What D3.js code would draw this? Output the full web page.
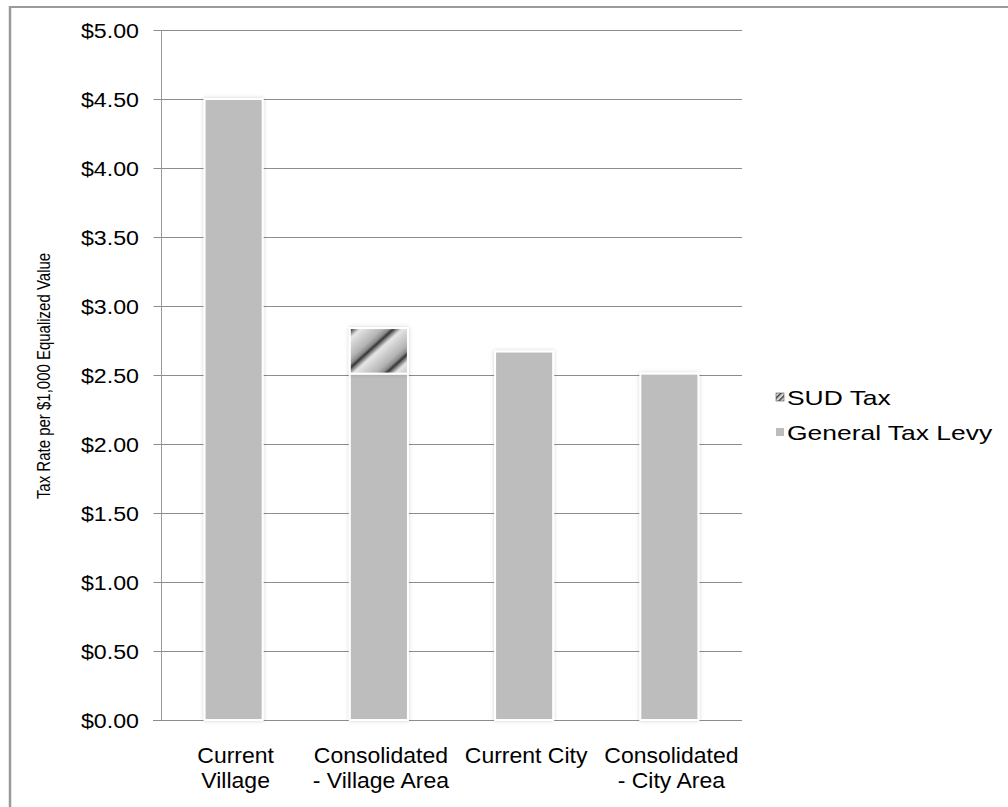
<!DOCTYPE html>
<html>
<head>
<meta charset="utf-8">
<script src="https://cdn.jsdelivr.net/npm/d3@7"></script>
<style>
  html, body { margin: 0; padding: 0; background: #fff; }
  svg { display: block; font-family: "Liberation Sans", Arial, sans-serif; }
</style>
</head>
<body>
<svg id="chart" width="1008" height="807"></svg>
<script>
// Tax rate per $1,000 of equalized value
const categoryLines = [["Current", "Village"], ["Consolidated", "- Village Area"], ["Current City"], ["Consolidated", "- City Area"]];
const categoryKeys = ["Current Village", "Consolidated - Village Area", "Current City", "Consolidated - City Area"];
const generalLevy = [4.50, 2.51, 2.67, 2.51];
const sudTax = [0, 0.33, 0, 0];
const seriesNames = ["SUD Tax", "General Tax Levy"];
const yTicks = [0, 0.5, 1, 1.5, 2, 2.5, 3, 3.5, 4, 4.5, 5];

const svg = d3.select("#chart");
const margin = { left: 161, right: 266, top: 30, bottom: 87 };
const W = 1008, H = 807;

const x = d3.scaleBand().domain(categoryKeys).range([margin.left, W - margin.right]).paddingInner(0.6).paddingOuter(0.3);
const y = d3.scaleLinear().domain([0, 5]).range([H - margin.bottom, margin.top]);

const defs = svg.append("defs");

// soft halo round each bar
const f = defs.append("filter").attr("id", "halo").attr("x", "-20%").attr("y", "-20%").attr("width", "140%").attr("height", "140%");
f.append("feGaussianBlur").attr("in", "SourceAlpha").attr("stdDeviation", 2.2).attr("result", "b");
f.append("feComponentTransfer").attr("in", "b").attr("result", "b2")
  .append("feFuncA").attr("type", "linear").attr("slope", 0.18);
const fm = f.append("feMerge");
fm.append("feMergeNode").attr("in", "b2");
fm.append("feMergeNode").attr("in", "SourceGraphic");

// diagonal shaded stripes for the SUD segment
const grad = defs.append("linearGradient").attr("id", "stripeGrad").attr("x1", "0").attr("x2", "1").attr("y1", "0").attr("y2", "0");
[[0, "#262626"], [0.07, "#6e6e6e"], [0.22, "#e6e6e6"], [0.45, "#d0d0d0"], [0.75, "#b4b4b4"], [0.92, "#8a8a8a"], [1, "#3a3a3a"]]
  .forEach(([o, c]) => grad.append("stop").attr("offset", o).attr("stop-color", c));
const pat = defs.append("pattern").attr("id", "sudPattern").attr("patternUnits", "userSpaceOnUse")
  .attr("width", 28).attr("height", 28).attr("patternTransform", "translate(350,330) rotate(48)");
pat.append("rect").attr("width", 28).attr("height", 28).attr("fill", "url(#stripeGrad)");

const legendPat = defs.append("pattern").attr("id", "sudIcon").attr("patternUnits", "userSpaceOnUse")
  .attr("width", 4).attr("height", 4).attr("patternTransform", "rotate(45)");
legendPat.append("rect").attr("width", 4).attr("height", 4).attr("fill", "#d8d8d8");
legendPat.append("rect").attr("width", 1.6).attr("height", 4).attr("fill", "#444");

// horizontally widened text, as the chart's fonts are drawn
function wideText(parent, tx, ty, sx, str, size, anchor) {
  return parent.append("text")
    .attr("transform", `translate(${tx},${ty}) scale(${sx},1)`)
    .attr("text-anchor", anchor).attr("font-size", size).attr("fill", "#000").text(str);
}

// outer frame
svg.append("line").attr("x1", 10).attr("x2", W).attr("y1", 7).attr("y2", 7).attr("stroke", "#9a9a9a").attr("stroke-width", 2);
svg.append("line").attr("x1", 10).attr("x2", 10).attr("y1", 6).attr("y2", H).attr("stroke", "#9a9a9a").attr("stroke-width", 2.5);

// gridlines
svg.append("g").selectAll("line").data(yTicks.filter(d => d > 0)).join("line")
  .attr("x1", margin.left).attr("x2", W - margin.right)
  .attr("y1", d => Math.round(y(d)) + 0.5).attr("y2", d => Math.round(y(d)) + 0.5)
  .attr("stroke", "#8c8c8c").attr("stroke-width", 1);

// y axis: line and ticks from the axis generator, labels widened
const yAxis = d3.axisLeft(y).tickValues(yTicks).tickSize(8).tickFormat(() => "");
const gy = svg.append("g").attr("transform", `translate(${margin.left + 0.5},0.5)`).call(yAxis);
gy.select(".domain").attr("stroke", "#9a9a9a").attr("d", `M0,${y(5)}V${y(0)}`);
gy.selectAll(".tick line").attr("stroke", "#8c8c8c");
gy.selectAll(".tick").attr("transform", d => `translate(0,${Math.round(y(d))})`);
const fmt = d => "$" + d3.format(".2f")(d);
const yl = svg.append("g");
yTicks.forEach(v => wideText(yl, 139, Math.round(y(v)) + 7.5, 1.19, fmt(v), 19.5, "end"));

// x axis baseline
svg.append("line").attr("x1", margin.left - 8).attr("x2", W - margin.right)
  .attr("y1", Math.round(y(0)) + 0.5).attr("y2", Math.round(y(0)) + 0.5).attr("stroke", "#8c8c8c");

// bars
const bars = svg.append("g");
bars.selectAll("rect.gen").data(categoryKeys).join("rect").attr("class", "gen")
  .attr("x", d => x(d)).attr("width", x.bandwidth())
  .attr("y", (d, i) => y(generalLevy[i])).attr("height", (d, i) => y(0) - y(generalLevy[i]))
  .attr("fill", "#bdbdbd").attr("stroke", "#fff").attr("stroke-width", 2).attr("filter", "url(#halo)");
bars.selectAll("rect.sud").data(categoryKeys.filter((d, i) => sudTax[i] > 0)).join("rect").attr("class", "sud")
  .attr("x", d => x(d)).attr("width", x.bandwidth())
  .attr("y", d => { const i = categoryKeys.indexOf(d); return y(generalLevy[i] + sudTax[i]); })
  .attr("height", d => { const i = categoryKeys.indexOf(d); return y(generalLevy[i]) - y(generalLevy[i] + sudTax[i]); })
  .attr("fill", "url(#sudPattern)").attr("stroke", "#fff").attr("stroke-width", 2).attr("filter", "url(#halo)");

// category labels
const xl = svg.append("g");
categoryKeys.forEach((k, i) => {
  const cx = x(k) + x.bandwidth() / 2 + 2;
  categoryLines[i].forEach((line, j) => wideText(xl, cx, 763 + j * 25, 1.07, line, 21.5, "middle"));
});

// y axis title
svg.append("text").attr("transform", "translate(50,376) scale(1.2,1) rotate(-90)").attr("text-anchor", "middle")
  .attr("font-size", 15).attr("fill", "#000").text("Tax Rate per $1,000 Equalized Value");

// legend
const legend = svg.append("g").attr("transform", "translate(776,397)");
seriesNames.forEach((name, i) => {
  const g = legend.append("g").attr("transform", `translate(0,${i * 35})`);
  g.append("rect").attr("x", 0).attr("y", -4).attr("width", 8).attr("height", 8)
    .attr("fill", i === 0 ? "url(#sudIcon)" : "#bdbdbd").attr("stroke", i === 0 ? "#555" : "none").attr("stroke-width", 0.6);
  wideText(g, 11, 8, 1.29, name, 20.5, "start");
});
</script>
</body>
</html>
